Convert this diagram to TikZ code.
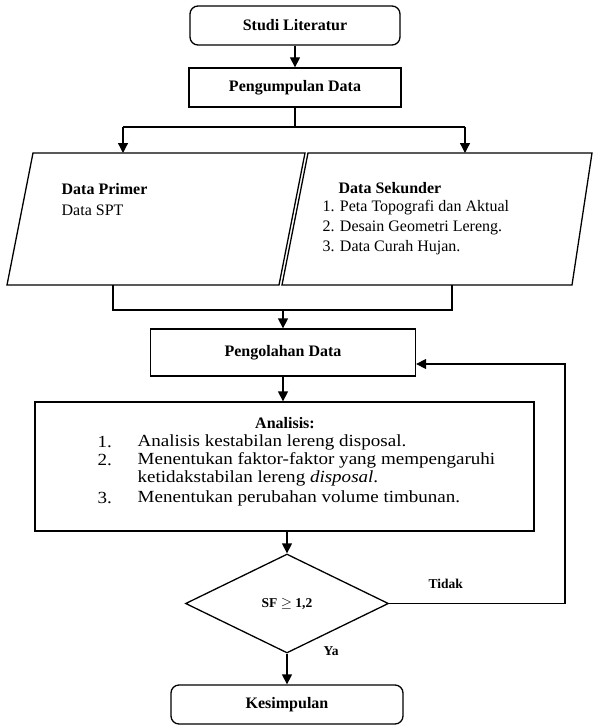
\documentclass[tikz,border=0pt]{standalone}
\usepackage{fontspec}
\setmainfont{Liberation Serif}
\newfontfamily\widefont[FakeStretch=1.12]{Liberation Serif}
\usetikzlibrary{arrows.meta,shapes.geometric}
\begin{document}
\begin{tikzpicture}[x=1pt,y=-1pt,
  line width=1.3pt,
  every node/.style={line width=1.3pt},
  arr/.style={-{Triangle[length=10pt,width=10pt]}},
  head/.style={font=\fontsize{16}{19}\selectfont\bfseries},
  body/.style={font=\fontsize{16}{19}\selectfont},
  item/.style={font=\widefont\fontsize{17}{19}\selectfont, inner sep=0pt, anchor=west},
  lbl/.style={font=\fontsize{13.5}{16}\selectfont\bfseries, inner sep=0pt},
  plain/.style={inner sep=0pt, anchor=west},
  rbox/.style={draw, rounded corners=8pt, head, inner sep=0pt},
  sbox/.style={draw, head, inner sep=0pt},
  ]
\useasboundingbox (0,0) rectangle (594,725);

% top boxes
\node[rbox, minimum width=210pt, minimum height=39pt] (studi) at (295,25.5) {Studi Literatur};
\node[sbox, minimum width=212pt, minimum height=39pt] (kumpul) at (295,87.5) {Pengumpulan Data};
\draw[arr] (studi.south) -- (kumpul.north);

% split
\coordinate (split) at (295,127);
\coordinate (sl) at (123,127);
\coordinate (sr) at (465,127);
\coordinate (pltop) at (123,153);
\coordinate (prtop) at (465,153);
\draw (kumpul.south) -- (split);
\draw (sl) -- (sr);
\draw[arr] (sl) -- (pltop);
\draw[arr] (sr) -- (prtop);

% parallelograms
\draw (33,153) -- (305,153) -- (279,285) -- (7,285) -- cycle;
\draw (308,153) -- (592,153) -- (572,285) -- (282,285) -- cycle;

\node[plain, head] (prim) at (61,189) {Data Primer};
\node[plain, body] (spt) at (61,210) {Data SPT};

\node[plain, head] (sek) at (338,188) {Data Sekunder};
\node[plain, body] (s1) at (322,208) {1. Peta Topografi dan Aktual};
\node[plain, body] (s2) at (322,228) {2. Desain Geometri Lereng.};
\node[plain, body] (s3) at (322,248) {3. Data Curah Hujan.};

% merge
\coordinate (ml) at (113,285);
\coordinate (mlb) at (113,310);
\coordinate (mr) at (452,285);
\coordinate (mrb) at (452,310);
\coordinate (mm) at (283,310);
\draw (ml) -- (mlb) -- (mrb) -- (mr);

\node[sbox, minimum width=265pt, minimum height=47pt] (olah) at (283,352.5) {Pengolahan Data};
\draw[arr] (mm) -- (olah.north);

% analisis
\node[draw, minimum width=499pt, minimum height=129pt, inner sep=0pt] (ana) at (284.5,466.5) {};
\draw[arr] (olah.south) -- (olah.south |- ana.north);
\node[head, inner sep=0pt] (anat) at (285,423) {Analisis:};
\node[item] (n1) at (97,442) {1.};
\node[item] (t1) at (137,442) {Analisis kestabilan lereng disposal.};
\node[item] (n2) at (97,460) {2.};
\node[item] (t2) at (137,460) {Menentukan faktor-faktor yang mempengaruhi};
\node[item] (t2b) at (137,478) {ketidakstabilan lereng \textit{disposal}.};
\node[item] (n3) at (97,498) {3.};
\node[item] (t3) at (137,498) {Menentukan perubahan volume timbunan.};

% decision
\node[draw, diamond, minimum width=203pt, minimum height=99pt, inner sep=0pt,
      font=\fontsize{13.5}{16}\selectfont\bfseries] (dia) at (287,603.5) {SF $\geq$ 1,2};
\draw[arr] (ana.south -| dia.north) -- (dia.north);

\coordinate (fb) at (565,364);
\draw[arr] (dia.east) -| (fb) -- (fb -| olah.east);
\node[lbl, anchor=west] (tidak) at (428,584) {Tidak};

\node[rbox, minimum width=232pt, minimum height=39pt] (kes) at (287,704.5) {Kesimpulan};
\draw[arr] (dia.south) -- (kes.north);
\node[lbl, anchor=west] (ya) at (323,651) {Ya};
\end{tikzpicture}
\end{document}
